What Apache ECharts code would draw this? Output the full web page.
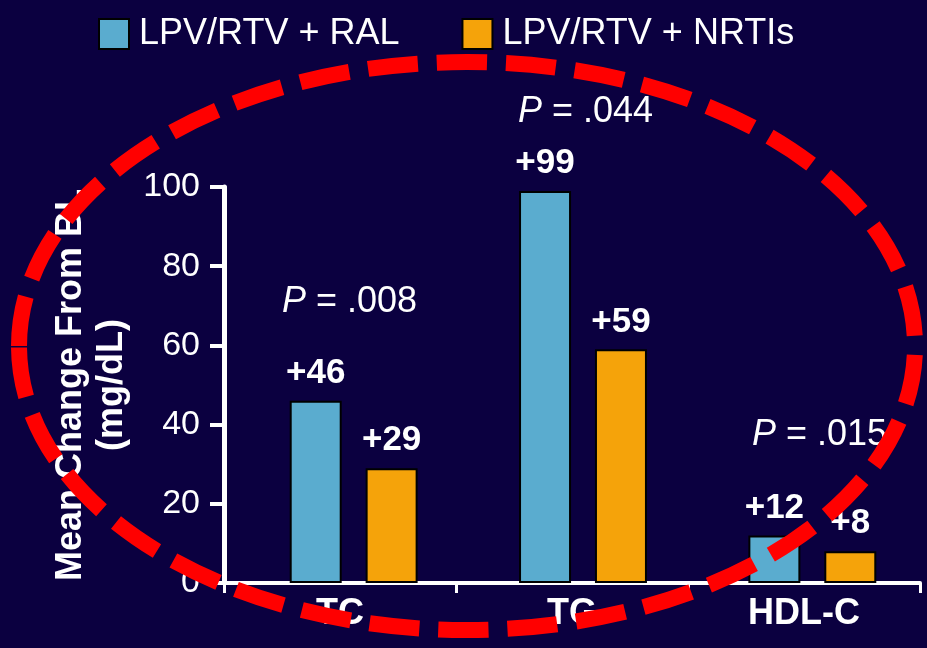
<!DOCTYPE html>
<html>
<head>
<meta charset="utf-8">
<script src="https://cdn.jsdelivr.net/npm/echarts@6/dist/echarts.min.js"></script>
<style>
  html, body { margin: 0; padding: 0; background: #0b0040; }
  #chart { width: 927px; height: 648px; }
</style>
</head>
<body>
<div id="chart"></div>
<script>
var categories = ['TC', 'TG', 'HDL-C'];
var ralValues = [46, 99, 12];
var nrtiValues = [29, 59, 8];
var pValues = ['.008', '.044', '.015'];

var myChart = echarts.init(document.getElementById('chart'));
var font = '"Liberation Sans", Arial, sans-serif';

// P value text, italic P
function pText(x, y, val) {
    return {
        type: 'text', x: x, y: y,
        style: {
            text: '{i|P} = ' + val, fill: '#fff', font: '36px ' + font,
            verticalAlign: 'middle',
            rich: { i: { fontStyle: 'italic', fontSize: 36, fill: '#fff', fontFamily: font } }
        }
    };
}

var barLabel = {
    show: true, position: 'top', distance: 10,
    color: '#fff', fontSize: 35, fontWeight: 'bold', fontFamily: font,
    formatter: function (p) { return '+' + p.value; }
};

var option = {
    backgroundColor: '#0b0040',
    textStyle: { fontFamily: font },
    legend: {
        top: 11,
        left: 93,
        itemWidth: 30,
        itemHeight: 30,
        itemGap: 62,
        icon: 'rect',
        itemStyle: { borderColor: '#000', borderWidth: 2 },
        textStyle: { color: '#fff', fontSize: 36, fontFamily: font, padding: [0, 0, 0, 5] },
        data: ['LPV/RTV + RAL', 'LPV/RTV + NRTIs']
    },
    grid: [
        { left: 224, width: 696, top: 187, bottom: 65 },
        { left: 239, width: 696, top: 187, bottom: 65 }
    ],
    xAxis: [
        {
            type: 'category',
            gridIndex: 0,
            data: categories,
            axisLine: { lineStyle: { color: '#fff', width: 4 } },
            axisTick: { show: true, length: 10, lineStyle: { color: '#fff', width: 3 } },
            axisLabel: { color: '#fff', fontSize: 36, fontWeight: 'bold', margin: 13, fontFamily: font }
        },
        {
            type: 'category',
            gridIndex: 1,
            data: categories,
            show: false
        }
    ],
    yAxis: [
        {
            type: 'value',
            gridIndex: 0,
            min: 0,
            max: 100,
            interval: 20,
            name: 'Mean Change From BL\n(mg/dL)',
            nameLocation: 'middle',
            nameGap: 91,
            nameTextStyle: { color: '#fff', fontSize: 36, fontWeight: 'bold', lineHeight: 41, fontFamily: font },
            axisLine: { show: true, lineStyle: { color: '#fff', width: 5 } },
            axisTick: { show: true, length: 14, lineStyle: { color: '#fff', width: 4 } },
            axisLabel: { color: '#fff', fontSize: 34, margin: 24, fontFamily: font },
            splitLine: { show: false }
        },
        {
            type: 'value',
            gridIndex: 1,
            min: 0,
            max: 100,
            interval: 20,
            show: false,
            splitLine: { show: false }
        }
    ],
    series: [
        {
            name: 'LPV/RTV + RAL',
            type: 'bar',
            xAxisIndex: 1,
            yAxisIndex: 1,
            data: ralValues,
            barWidth: 52,
            barGap: '46%',
            itemStyle: { color: '#5aaccf', borderColor: '#000', borderWidth: 2 },
            label: barLabel
        },
        {
            name: 'LPV/RTV + NRTIs',
            type: 'bar',
            xAxisIndex: 1,
            yAxisIndex: 1,
            data: nrtiValues,
            barWidth: 52,
            itemStyle: { color: '#f5a30a', borderColor: '#000', borderWidth: 2 },
            label: barLabel
        }
    ],
    graphic: [
        pText(282, 302, pValues[0]),
        pText(518, 112, pValues[1]),
        pText(752, 435, pValues[2]),
        {
            type: 'ellipse',
            z: 100,
            shape: { cx: 467, cy: 346, rx: 448, ry: 284 },
            style: { fill: null, stroke: '#ff0000', lineWidth: 16, lineDash: [50, 19] }
        }
    ]
};

myChart.setOption(option);
</script>
</body>
</html>
